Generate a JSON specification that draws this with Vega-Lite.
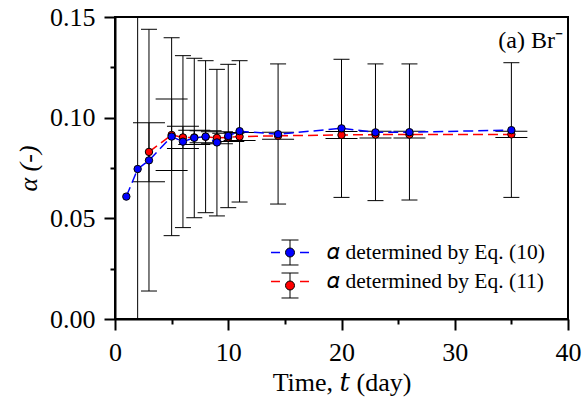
{
  "$schema": "https://vega.github.io/schema/vega-lite/v6.json",
  "width": 453,
  "height": 302,
  "autosize": {"type": "none"},
  "padding": {"left": 115, "top": 17, "right": 17, "bottom": 85},
  "background": "white",
  "title": {"text": "(a) Br⁻", "anchor": "end", "frame": "group", "orient": "top", "offset": 0, "baseline": "alphabetic", "font": "Liberation Serif", "fontSize": 24, "fontWeight": "normal", "color": "black", "dx": -5, "dy": 68},
  "config": {"view": {"stroke": "black", "strokeWidth": 2}, "font": "Liberation Serif", "legend": {"labelFont": "Liberation Serif, DejaVu Serif"}},
  "data": {"values": [
    {"t": 3, "series": "𝛼 determined by Eq. (11)", "alpha": 0.0830, "lo": 0.0682, "hi": 0.0975},
    {"t": 5, "series": "𝛼 determined by Eq. (11)", "alpha": 0.0914, "lo": 0.0738, "hi": 0.1093},
    {"t": 6, "series": "𝛼 determined by Eq. (11)", "alpha": 0.0902, "lo": 0.0847, "hi": 0.0957},
    {"t": 7, "series": "𝛼 determined by Eq. (11)", "alpha": 0.0902, "lo": 0.0867, "hi": 0.0937},
    {"t": 8, "series": "𝛼 determined by Eq. (11)", "alpha": 0.0905, "lo": 0.0875, "hi": 0.0935},
    {"t": 9, "series": "𝛼 determined by Eq. (11)", "alpha": 0.0900, "lo": 0.0870, "hi": 0.0930},
    {"t": 10, "series": "𝛼 determined by Eq. (11)", "alpha": 0.0902, "lo": 0.0882, "hi": 0.0922},
    {"t": 11, "series": "𝛼 determined by Eq. (11)", "alpha": 0.0906, "lo": 0.0886, "hi": 0.0926},
    {"t": 14.4, "series": "𝛼 determined by Eq. (11)", "alpha": 0.0910, "lo": 0.0893, "hi": 0.0927},
    {"t": 20, "series": "𝛼 determined by Eq. (11)", "alpha": 0.0914, "lo": 0.0897, "hi": 0.0931},
    {"t": 23, "series": "𝛼 determined by Eq. (11)", "alpha": 0.0916, "lo": 0.0899, "hi": 0.0933},
    {"t": 26, "series": "𝛼 determined by Eq. (11)", "alpha": 0.0916, "lo": 0.0899, "hi": 0.0933},
    {"t": 35, "series": "𝛼 determined by Eq. (11)", "alpha": 0.0917, "lo": 0.0902, "hi": 0.0932},
    {"t": 1, "series": "𝛼 determined by Eq. (10)", "alpha": 0.0608, "lo": null, "hi": null},
    {"t": 2, "series": "𝛼 determined by Eq. (10)", "alpha": 0.0745, "lo": -0.05, "hi": 0.2},
    {"t": 3, "series": "𝛼 determined by Eq. (10)", "alpha": 0.0788, "lo": 0.0139, "hi": 0.1439},
    {"t": 5, "series": "𝛼 determined by Eq. (10)", "alpha": 0.0906, "lo": 0.0414, "hi": 0.1397},
    {"t": 6, "series": "𝛼 determined by Eq. (10)", "alpha": 0.0881, "lo": 0.0454, "hi": 0.1308},
    {"t": 7, "series": "𝛼 determined by Eq. (10)", "alpha": 0.0900, "lo": 0.0503, "hi": 0.1295},
    {"t": 8, "series": "𝛼 determined by Eq. (10)", "alpha": 0.0906, "lo": 0.0528, "hi": 0.1283},
    {"t": 9, "series": "𝛼 determined by Eq. (10)", "alpha": 0.0877, "lo": 0.0512, "hi": 0.1240},
    {"t": 10, "series": "𝛼 determined by Eq. (10)", "alpha": 0.0909, "lo": 0.0553, "hi": 0.1265},
    {"t": 11, "series": "𝛼 determined by Eq. (10)", "alpha": 0.0933, "lo": 0.0581, "hi": 0.1283},
    {"t": 14.4, "series": "𝛼 determined by Eq. (10)", "alpha": 0.0918, "lo": 0.0571, "hi": 0.1267},
    {"t": 20, "series": "𝛼 determined by Eq. (10)", "alpha": 0.0947, "lo": 0.0604, "hi": 0.1290},
    {"t": 23, "series": "𝛼 determined by Eq. (10)", "alpha": 0.0927, "lo": 0.0588, "hi": 0.1267},
    {"t": 26, "series": "𝛼 determined by Eq. (10)", "alpha": 0.0928, "lo": 0.0591, "hi": 0.1267},
    {"t": 35, "series": "𝛼 determined by Eq. (10)", "alpha": 0.0938, "lo": 0.0604, "hi": 0.1273}
  ]},
  "resolve": {"axis": {"x": "independent", "y": "independent"}},
  "layer": [
    {
      "mark": {"type": "rule", "color": "black", "strokeWidth": 1, "clip": true},
      "encoding": {
        "x": {"field": "t", "type": "quantitative", "scale": {"domain": [0, 40], "nice": false},
          "axis": {"orient": "bottom", "values": [0, 10, 20, 30, 40], "format": "d", "grid": false, "tickSize": 11, "tickWidth": 2, "tickColor": "black", "domainColor": "black", "domainWidth": 2, "labelFont": "Liberation Serif", "labelFontSize": 26, "labelColor": "black", "labelPadding": 9, "labelFlush": false, "labelOverlap": false, "title": "Time, 𝑡 (day)", "titleFont": "Liberation Serif, DejaVu Serif", "titleFontSize": 26, "titleFontWeight": "normal", "titleColor": "black", "titleBaseline": "alphabetic", "titleY": 71}},
        "y": {"field": "lo", "type": "quantitative", "scale": {"domain": [0, 0.15], "nice": false, "zero": false},
          "axis": {"orient": "left", "values": [0, 0.05, 0.1, 0.15], "format": ".2f", "grid": false, "tickSize": 11, "tickWidth": 2, "tickColor": "black", "domainColor": "black", "domainWidth": 2, "labelFont": "Liberation Serif", "labelFontSize": 26, "labelColor": "black", "labelPadding": 9, "labelFlush": false, "labelOverlap": false, "title": "α (-)", "titleFont": "Liberation Serif", "titleFontStyle": "italic", "titleFontSize": 26, "titleFontWeight": "normal", "titleColor": "black", "titleBaseline": "alphabetic", "titleAlign": "center", "titleAngle": 270, "titleX": -79, "titleY": 151}},
        "y2": {"field": "hi"}
      }
    },
    {
      "transform": [{"filter": {"field": "series", "equal": "𝛼 determined by Eq. (10)"}}, {"fold": ["lo", "hi"], "as": ["end", "v"]}],
      "mark": {"type": "tick", "orient": "horizontal", "size": 16, "thickness": 1, "color": "black", "opacity": 1, "clip": true},
      "encoding": {
        "x": {"field": "t", "type": "quantitative", "axis": null},
        "y": {"field": "v", "type": "quantitative", "axis": null}
      }
    },
    {
      "transform": [{"filter": {"field": "series", "equal": "𝛼 determined by Eq. (11)"}}, {"fold": ["lo", "hi"], "as": ["end", "v"]}],
      "mark": {"type": "tick", "orient": "horizontal", "size": 32, "thickness": 1, "color": "black", "opacity": 1, "clip": true},
      "encoding": {
        "x": {"field": "t", "type": "quantitative", "axis": null},
        "y": {"field": "v", "type": "quantitative", "axis": null}
      }
    },
    {
      "mark": {"type": "line", "strokeDash": [10, 5], "strokeWidth": 1.5, "clip": true},
      "encoding": {
        "x": {"field": "t", "type": "quantitative",
          "axis": {"orient": "bottom", "values": [5, 15, 25, 35], "grid": false, "labels": false, "domain": false, "tickSize": 5, "tickWidth": 2, "tickColor": "black", "title": null}},
        "y": {"field": "alpha", "type": "quantitative",
          "axis": {"orient": "left", "values": [0.025, 0.075, 0.125], "grid": false, "labels": false, "domain": false, "tickSize": 5, "tickWidth": 2, "tickColor": "black", "title": null}},
        "stroke": {"field": "series", "type": "nominal", "scale": {"range": ["#0000ff", "#ff0000"]},
          "legend": {"orient": "none", "legendX": 157.5, "legendY": 218, "title": null, "padding": 0, "rowPadding": 1, "symbolType": "M-1.134,0H-0.597M0.597,0H1.134", "symbolSize": 1122, "symbolStrokeWidth": 1.5, "symbolFillColor": "transparent", "labelFont": "Liberation Serif, DejaVu Serif", "labelFontSize": 21.5, "labelColor": "black", "labelOffset": 19.5, "labelLimit": 0}}
      }
    },
    {
      "mark": {"type": "point", "filled": true, "size": 55, "stroke": "black", "strokeWidth": 1, "opacity": 1, "clip": true},
      "encoding": {
        "x": {"field": "t", "type": "quantitative", "axis": null},
        "y": {"field": "alpha", "type": "quantitative", "axis": null},
        "fill": {"field": "series", "type": "nominal", "scale": {"domain": ["𝛼 determined by Eq. (10)", "𝛼 determined by Eq. (11)"], "range": ["#0000ff", "#ff0000"]},
          "legend": {"orient": "none", "legendX": 157.5, "legendY": 218, "title": null, "padding": 0, "rowPadding": 1, "symbolType": "M0.265,0A0.265,0.265,0,1,1,-0.265,0A0.265,0.265,0,1,1,0.265,0ZM-0.5,-0.735H0.5M0,-0.735V-0.265M0,0.265V0.735M-0.5,0.735H0.5", "symbolSize": 1156, "symbolStrokeWidth": 1, "symbolStrokeColor": "black", "labelFont": "Liberation Serif", "labelFontSize": 21.5, "labelExpr": "''", "labelOffset": 19.5, "labelLimit": 0}}
      }
    }
  ]
}
